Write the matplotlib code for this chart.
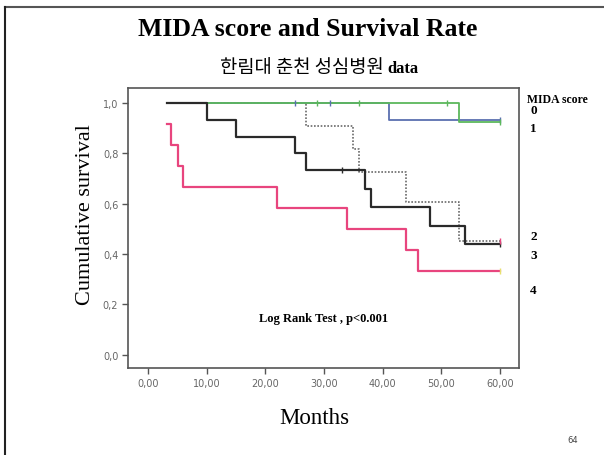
import matplotlib.pyplot as plt
from matplotlib.lines import Line2D

# Kaplan-Meier step data
months_0 = [3.2, 41.0, 60.0]
surv_0 = [1.0, 0.933, 0.933]
cens_0 = [25.0, 31.0, 60.0]

months_1 = [3.2, 53.0, 60.0]
surv_1 = [1.0, 0.923, 0.923]
cens_1 = [28.8, 36.0, 51.0, 60.0]

months_2 = [3.2, 10.0, 15.0, 25.0, 27.0, 37.0, 38.0, 48.0, 54.0, 60.0]
surv_2 = [1.0, 0.933, 0.867, 0.80, 0.733, 0.66, 0.587, 0.513, 0.44, 0.44]
cens_2 = [33.0, 60.0]

months_3 = [3.2, 27.0, 35.0, 36.0, 44.0, 53.0, 60.0]
surv_3 = [1.0, 0.909, 0.818, 0.727, 0.606, 0.454, 0.454]

months_4 = [3.2, 3.9, 5.1, 5.9, 22.0, 34.0, 44.0, 46.0, 60.0]
surv_4 = [0.917, 0.833, 0.75, 0.667, 0.583, 0.5, 0.417, 0.333, 0.333]

score_labels = ["0", "1", "2", "3", "4"]
x_ticks = [0, 10, 20, 30, 40, 50, 60]
y_ticks = [0.0, 0.2, 0.4, 0.6, 0.8, 1.0]

blue = "#5a6fb0"
green = "#5cb85c"
black = "#2a2a2a"
grey = "#6a6a6a"
pink = "#e8457e"
serif = "Liberation Serif"


def censor_y(t, months, surv):
    y = surv[0]
    for m, s in zip(months, surv):
        if m <= t:
            y = s
    return y


fig = plt.figure(figsize=(6.04, 4.56), dpi=100)
ax = fig.add_axes([0.212, 0.191, 0.647, 0.614])

ax.step(months_3, surv_3, where="post", color=grey, lw=1.2, linestyle=(0, (1, 1)))
ax.step(months_0, surv_0, where="post", color=blue, lw=1.3)
ax.step(months_1, surv_1, where="post", color=green, lw=1.3)
ax.step(months_2, surv_2, where="post", color=black, lw=1.6)
ax.step(months_4, surv_4, where="post", color=pink, lw=1.6)

for cens, months, surv, c in [(cens_0, months_0, surv_0, blue),
                              (cens_1, months_1, surv_1, green),
                              (cens_2, months_2, surv_2, black)]:
    ys = [censor_y(t, months, surv) for t in cens]
    ax.plot(cens, ys, linestyle="none", marker="|", ms=4, mew=1, color=c)
ax.plot([60], [surv_4[-1]], marker="|", ms=4, color="#e8e070", linestyle="none")
ax.plot([60], [surv_3[-1]], marker="|", ms=4, color=pink, linestyle="none")

ax.set_xlim(-3.4, 63.2)
ax.set_ylim(-0.052, 1.06)
ax.set_xticks(x_ticks)
ax.set_xticklabels([f"{v:.2f}".replace(".", ",") for v in x_ticks])
ax.set_yticks(y_ticks)
ax.set_yticklabels([f"{v:.1f}".replace(".", ",") for v in y_ticks])
ax.tick_params(direction="out", length=4, width=1, color="#555555",
               labelsize=7, labelcolor="#666666", pad=3)
for s in ax.spines.values():
    s.set_color("#555555")
    s.set_linewidth(1.2)

ax.text(0.5, 0.18, "Log Rank Test , p<0.001", transform=ax.transAxes,
        ha="center", va="center", fontsize=9, fontweight="bold", family=serif)

fig.text(0.509, 0.935, "MIDA score and Survival Rate", ha="center", va="center",
         fontsize=18.5, fontweight="bold", family=serif)
fig.text(0.635, 0.851, "한림대 춘천 성심병원", ha="right", va="center",
         fontsize=13.5, family="Noto Sans CJK KR")
fig.text(0.642, 0.849, "data", ha="left", va="center",
         fontsize=12, fontweight="bold", family=serif)

fig.text(0.141, 0.53, "Cumulative survival", rotation=90, ha="center", va="center",
         fontsize=16, family=serif)
fig.text(0.52, 0.083, "Months", ha="center", va="center", fontsize=16.5, family=serif)

fig.text(0.872, 0.78, "MIDA score", ha="left", va="center",
         fontsize=8.5, fontweight="bold", family=serif)
label_y = [111, 129, 237, 256, 291]
for lab, py in zip(score_labels, label_y):
    fig.text(0.878, 1 - py / 456, lab, ha="left", va="center",
             fontsize=9.5, fontweight="bold", family=serif)

fig.text(0.939, 0.033, "64", ha="left", va="center", fontsize=6, color="#444444")

# slide frame
fig.add_artist(Line2D([0.008, 1.0], [0.983, 0.983], color="#555555", lw=1.5,
                      transform=fig.transFigure))
fig.add_artist(Line2D([0.008, 0.008], [0.0, 0.983], color="#222222", lw=1.5,
                      transform=fig.transFigure))

fig.savefig("out.png", dpi=100)
